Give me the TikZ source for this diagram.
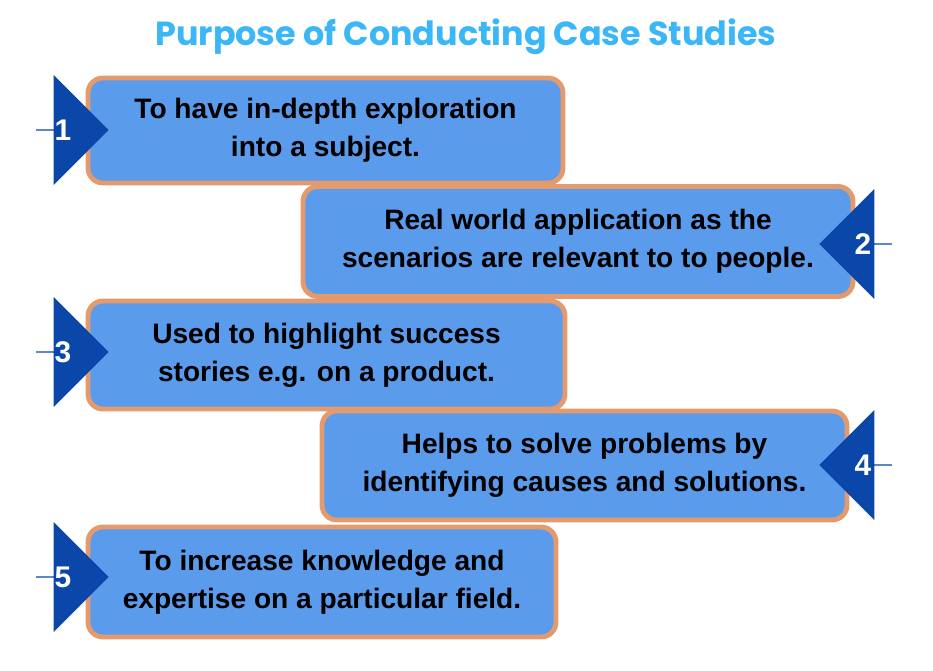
\documentclass[tikz,border=0pt]{standalone}
\usepackage{fontspec}
\setmainfont{Liberation Sans}
\newfontfamily\titlefont{Poppins}
\usetikzlibrary{shapes.arrows}
\definecolor{boxblue}{HTML}{5B9BEC}
\definecolor{boxedge}{HTML}{E39A6C}
\definecolor{arrowblue}{HTML}{0B47A8}
\definecolor{titleblue}{HTML}{3BB6F6}
\begin{document}
\begin{tikzpicture}[
    purpose/.style={rectangle, draw=boxedge, line width=2.8pt, fill=boxblue, rounded corners=0.3cm, align=center, font=\bfseries\fontsize{16}{21.5}\selectfont, inner sep=0pt},
    pointer/.style={single arrow, fill=arrowblue, minimum height=1.45cm, minimum width=2.2cm, single arrow head extend=0.56cm, inner sep=0pt},
    num/.style={text=white, font=\bfseries\fontsize{17}{20}\selectfont}
]
    \useasboundingbox (0,0) rectangle (18.66,-13.4);

    % Title
    \node[text=titleblue, font=\titlefont\bfseries\fontsize{19}{23}\selectfont] (title) at (9.32,-0.74) {Purpose of Conducting Case Studies};

    % Boxes
    \node[purpose, minimum width=9.5cm, minimum height=2.1cm] (p1) at (6.51,-2.61) {To have in-depth exploration\\into a subject.};
    \node[purpose, minimum width=11.0cm, minimum height=2.2cm] (p2) at (11.56,-4.83) {Real world application as the\\scenarios are relevant to to people.};
    \node[purpose, minimum width=9.54cm, minimum height=2.16cm] (p3) at (6.53,-7.10) {Used to highlight success\\stories e.g. on a product.};
    \node[purpose, minimum width=10.5cm, minimum height=2.18cm] (p4) at (11.69,-9.31) {Helps to solve problems by\\identifying causes and solutions.};
    \node[purpose, minimum width=9.36cm, minimum height=2.2cm] (p5) at (6.44,-11.64) {To increase knowledge and\\expertise on a particular field.};

    % Arrows
    \node[pointer] (a1) at (1.44,-2.6) {};
    \node[pointer, shape border rotate=180] (a2) at (17.12,-4.88) {};
    \node[pointer] (a3) at (1.44,-7.04) {};
    \node[pointer, shape border rotate=180] (a4) at (17.12,-9.3) {};
    \node[pointer] (a5) at (1.44,-11.54) {};

    % Numbers
    \node[num] (n1) at (1.26,-2.6) {1};
    \node[num] (n2) at (17.26,-4.88) {2};
    \node[num] (n3) at (1.26,-7.04) {3};
    \node[num] (n4) at (17.26,-9.3) {4};
    \node[num] (n5) at (1.26,-11.54) {5};
\end{tikzpicture}
\end{document}
